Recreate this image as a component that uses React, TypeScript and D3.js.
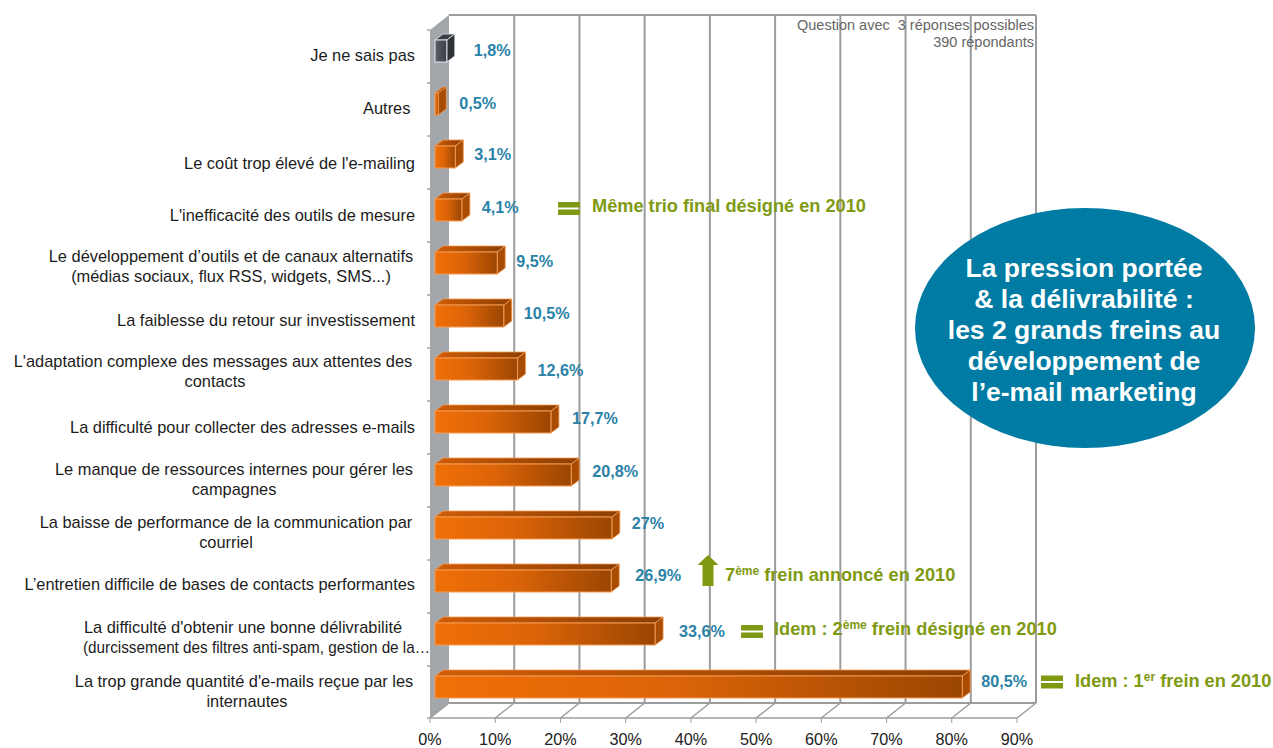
import React from "react";
import * as d3 from "d3";

// Survey answers, top row first.
const categories: string[][] = [
  ["Je ne sais pas"],
  ["Autres "],
  ["Le coût trop élevé de l'e-mailing"],
  ["L'inefficacité des outils de mesure"],
  ["Le développement d’outils et de canaux alternatifs", "(médias sociaux, flux RSS, widgets, SMS...)"],
  ["La faiblesse du retour sur investissement"],
  ["L'adaptation complexe des messages aux attentes des", "contacts"],
  ["La difficulté pour collecter des adresses e-mails"],
  ["Le manque de ressources internes pour gérer les", "campagnes"],
  ["La baisse de performance de la communication par", "courriel"],
  ["L’entretien difficile de bases de contacts performantes"],
  ["La difficulté d'obtenir une bonne délivrabilité", "(durcissement des filtres anti-spam, gestion de la…"],
  ["La trop grande quantité d'e-mails reçue par les", "internautes"],
];
const values = [1.8, 0.5, 3.1, 4.1, 9.5, 10.5, 12.6, 17.7, 20.8, 27, 26.9, 33.6, 80.5];
const valueLabels = ["1,8%", "0,5%", "3,1%", "4,1%", "9,5%", "10,5%", "12,6%", "17,7%", "20,8%", "27%", "26,9%", "33,6%", "80,5%"];
const ticks = [0, 10, 20, 30, 40, 50, 60, 70, 80, 90];
const bubbleLines = ["La pression portée", "& la délivrabilité :", "les 2 grands freins au", "développement de", "l’e-mail marketing"];
const noteLines = ["Question avec  3 réponses possibles", "390 répondants"];

type Part = { t: string; sup?: boolean };
type Note = { row: number; kind: "equal" | "up"; parts: Part[] };
const comparisons: Note[] = [
  { row: 3, kind: "equal", parts: [{ t: "Même trio final désigné en 2010" }] },
  { row: 10, kind: "up", parts: [{ t: "7" }, { t: "ème", sup: true }, { t: " frein annoncé en 2010" }] },
  { row: 11, kind: "equal", parts: [{ t: "Idem : 2" }, { t: "ème", sup: true }, { t: " frein désigné en 2010" }] },
  { row: 12, kind: "equal", parts: [{ t: "Idem : 1" }, { t: "er", sup: true }, { t: " frein en 2010" }] },
];

// Layout of the pseudo-3D plot and hand-placed label offsets.
const DEPTH_X = 19;
const DEPTH_Y = 15;
const FLOOR_Y = 718;
const TOP_Y = 30;
const BAR_H = 22;
const BAR_DX = 8;
const BAR_DY = 6;
const LABEL_RIGHT = 415;
const categoryNudge = [5, 5, 7, 6, 3.5, 5, 2.5, 6, 5, 4.5, 4, 4, 4.5];
const twoLineCenters: Record<number, [number, number]> = {
  4: [231, 231],
  6: [213, 215],
  8: [234, 234],
  9: [226, 226],
  11: [243, 256.5],
  12: [244, 247],
};
// The long parenthesis under the deliverability answer is set tighter than the rest.
const squeezedLine = { row: 11, line: 1, length: 347 };
const labelNudge: [number, number][] = [
  [19, 0], [13, 0], [11, -2], [12, -2], [11, -1], [12, -2], [12, 2], [13, -3], [13, -3], [12, -4], [16, -5], [16, -2], [11, -5],
];
const notePlace: Record<number, { icon: number; text: number; dy: number; textDy: number }> = {
  3: { icon: 569, text: 592, dy: -1.5, textDy: 2 },
  10: { icon: 708, text: 725, dy: -9, textDy: 0 },
  11: { icon: 752, text: 774, dy: -2.5, textDy: 1 },
  12: { icon: 1052, text: 1075, dy: -5, textDy: 0 },
};

const SANS = "'Liberation Sans', Arial, sans-serif";
const GRID = "#9c9c9c";
const GREEN = "#7f9a12";
const BLUE = "#2a82a8";

export default function App() {
  const x = d3.scaleLinear().domain([0, 90]).range([430, 1017]);
  const barX = d3.scaleLinear().domain([0, 90]).range([435, 1024.5]);
  const y = d3.scalePoint<number>().domain(d3.range(categories.length)).range([51, 687]);
  const poly = d3.line<[number, number]>();

  return (
    <svg width={1273} height={748} style={{ position: "absolute", left: 0, top: 0, background: "#fff" }} fontFamily={SANS}>
      <defs>
        <linearGradient id="barFront" x1="0" x2="1" y1="0" y2="0">
          <stop offset="0" stopColor="#f07008" />
          <stop offset="0.45" stopColor="#dc6408" />
          <stop offset="1" stopColor="#9a4602" />
        </linearGradient>
        <linearGradient id="barTop" x1="0" x2="1" y1="0" y2="0">
          <stop offset="0" stopColor="#d05c06" />
          <stop offset="1" stopColor="#8a3e02" />
        </linearGradient>
        <linearGradient id="greyFront" x1="0" x2="1" y1="0" y2="0">
          <stop offset="0" stopColor="#5a6068" />
          <stop offset="1" stopColor="#3a3e46" />
        </linearGradient>
      </defs>

      {/* Left wall */}
      <path
        d={poly([[x(0), TOP_Y], [x(0) + DEPTH_X, TOP_Y - DEPTH_Y], [x(0) + DEPTH_X, FLOOR_Y - DEPTH_Y], [x(0), FLOOR_Y]])! + "Z"}
        fill="#a3a7ab"
      />

      {/* Back wall gridlines and floor */}
      <line x1={x(0) + DEPTH_X} x2={x(90) + DEPTH_X} y1={TOP_Y - DEPTH_Y} y2={TOP_Y - DEPTH_Y} stroke={GRID} strokeWidth={2} />
      <line x1={x(0) + DEPTH_X} x2={x(90) + DEPTH_X} y1={FLOOR_Y - DEPTH_Y} y2={FLOOR_Y - DEPTH_Y} stroke={GRID} strokeWidth={2} />
      <line x1={x(0)} x2={x(90)} y1={FLOOR_Y} y2={FLOOR_Y} stroke={GRID} strokeWidth={1.5} />
      {ticks.map((t) => (
        <g key={t} stroke={GRID}>
          {t > 0 && <line x1={x(t) + DEPTH_X} x2={x(t) + DEPTH_X} y1={TOP_Y - DEPTH_Y} y2={FLOOR_Y - DEPTH_Y} strokeWidth={2} />}
          <line x1={x(t)} x2={x(t) + DEPTH_X} y1={FLOOR_Y} y2={FLOOR_Y - DEPTH_Y} strokeWidth={1.5} />
          <line x1={x(t)} x2={x(t)} y1={FLOOR_Y} y2={FLOOR_Y + 5} strokeWidth={1} />
        </g>
      ))}
      {categories.map((_, i) => (
        <line key={i} x1={x(0) - 3} x2={x(0)} y1={y(i)! - 21} y2={y(i)! - 21} stroke="#777" />
      ))}
      <line x1={x(0) - 3} x2={x(0)} y1={FLOOR_Y} y2={FLOOR_Y} stroke="#777" />

      {/* Axis labels */}
      {ticks.map((t) => (
        <text key={t} x={x(t)} y={744.5} textAnchor="middle" fontSize={16.2} fill="#222">{t}%</text>
      ))}

      {/* Survey note */}
      {noteLines.map((l, i) => (
        <text key={i} x={1034} y={30 + i * 17} textAnchor="end" fontSize={14.5} fill="#666" xmlSpace="preserve">{l}</text>
      ))}

      {/* Bars */}
      {values.map((v, i) => {
        const cy = y(i)!;
        const x0 = barX(0);
        const x1 = barX(v);
        const top = cy - BAR_H / 2;
        const bottom = cy + BAR_H / 2;
        const unknown = i === 0;
        const edge = unknown ? "#e6e8ea" : "#f59a50";
        return (
          <g key={i}>
            <path
              d={poly([[x0, top], [x0 + BAR_DX, top - BAR_DY], [x1 + BAR_DX, top - BAR_DY], [x1, top]])! + "Z"}
              fill={unknown ? "#3a3e46" : "url(#barTop)"} stroke={edge} strokeWidth={0.8}
            />
            <path
              d={poly([[x1, top], [x1 + BAR_DX, top - BAR_DY], [x1 + BAR_DX, bottom - BAR_DY], [x1, bottom]])! + "Z"}
              fill={unknown ? "#2e3138" : "#a84c04"} stroke={edge} strokeWidth={0.8}
            />
            <rect
              x={x0} y={top} width={x1 - x0} height={BAR_H}
              fill={unknown ? "url(#greyFront)" : "url(#barFront)"} stroke={edge} strokeWidth={1}
            />
          </g>
        );
      })}

      {/* Category labels: single lines flush right, wrapped ones centred */}
      {categories.map((lines, i) => (
        <g key={i} fontSize={16.4} fill="#1c1c1c">
          {lines.map((l, k) => {
            const squeezed = i === squeezedLine.row && k === squeezedLine.line;
            return lines.length > 1 ? (
              <text
                key={k}
                x={twoLineCenters[i][k]}
                y={y(i)! + 5 + categoryNudge[i] + k * 20 - 10}
                textAnchor="middle"
                textLength={squeezed ? squeezedLine.length : undefined}
                lengthAdjust={squeezed ? "spacingAndGlyphs" : undefined}
              >
                {l}
              </text>
            ) : (
              <text key={k} x={LABEL_RIGHT} y={y(i)! + 5 + categoryNudge[i]} textAnchor="end" xmlSpace="preserve">{l}</text>
            );
          })}
        </g>
      ))}

      {/* Value labels */}
      {values.map((v, i) => (
        <text
          key={i}
          x={barX(v) + BAR_DX + labelNudge[i][0]}
          y={y(i)! + 5 + labelNudge[i][1]}
          fontSize={16.2}
          fontWeight="bold"
          fill={BLUE}
        >
          {valueLabels[i]}
        </text>
      ))}

      {/* Comparison with the previous year */}
      {comparisons.map((n) => {
        const p = notePlace[n.row];
        const cy = y(n.row)! + p.dy;
        return (
          <g key={n.row}>
            {n.kind === "equal" ? (
              <g fill={GREEN}>
                <rect x={p.icon - 11} y={cy - 6.5} width={22} height={5.5} />
                <rect x={p.icon - 11} y={cy + 1} width={22} height={5.5} />
              </g>
            ) : (
              <path
                d={poly([[p.icon, cy - 17], [p.icon + 10.5, cy - 7], [p.icon + 5.5, cy - 7], [p.icon + 5.5, cy + 14], [p.icon - 5.5, cy + 14], [p.icon - 5.5, cy - 7], [p.icon - 10.5, cy - 7]])! + "Z"}
                fill={GREEN}
              />
            )}
            <text x={p.text} y={y(n.row)! + p.textDy} fontSize={18.2} fontWeight="bold" fill={GREEN} xmlSpace="preserve">
              {n.parts.map((part, k) => (
                <tspan key={k} fontSize={part.sup ? 12 : 18.2} dy={part.sup ? -6 : k > 0 ? 6 : 0}>{part.t}</tspan>
              ))}
            </text>
          </g>
        );
      })}

      {/* Headline bubble */}
      <ellipse cx={1085} cy={328} rx={170} ry={120} fill="#007ba3" />
      {bubbleLines.map((l, i) => (
        <text key={i} x={1084} y={277 + i * 31} textAnchor="middle" fontSize={26.5} fontWeight="bold" fill="#fff">{l}</text>
      ))}
    </svg>
  );
}
